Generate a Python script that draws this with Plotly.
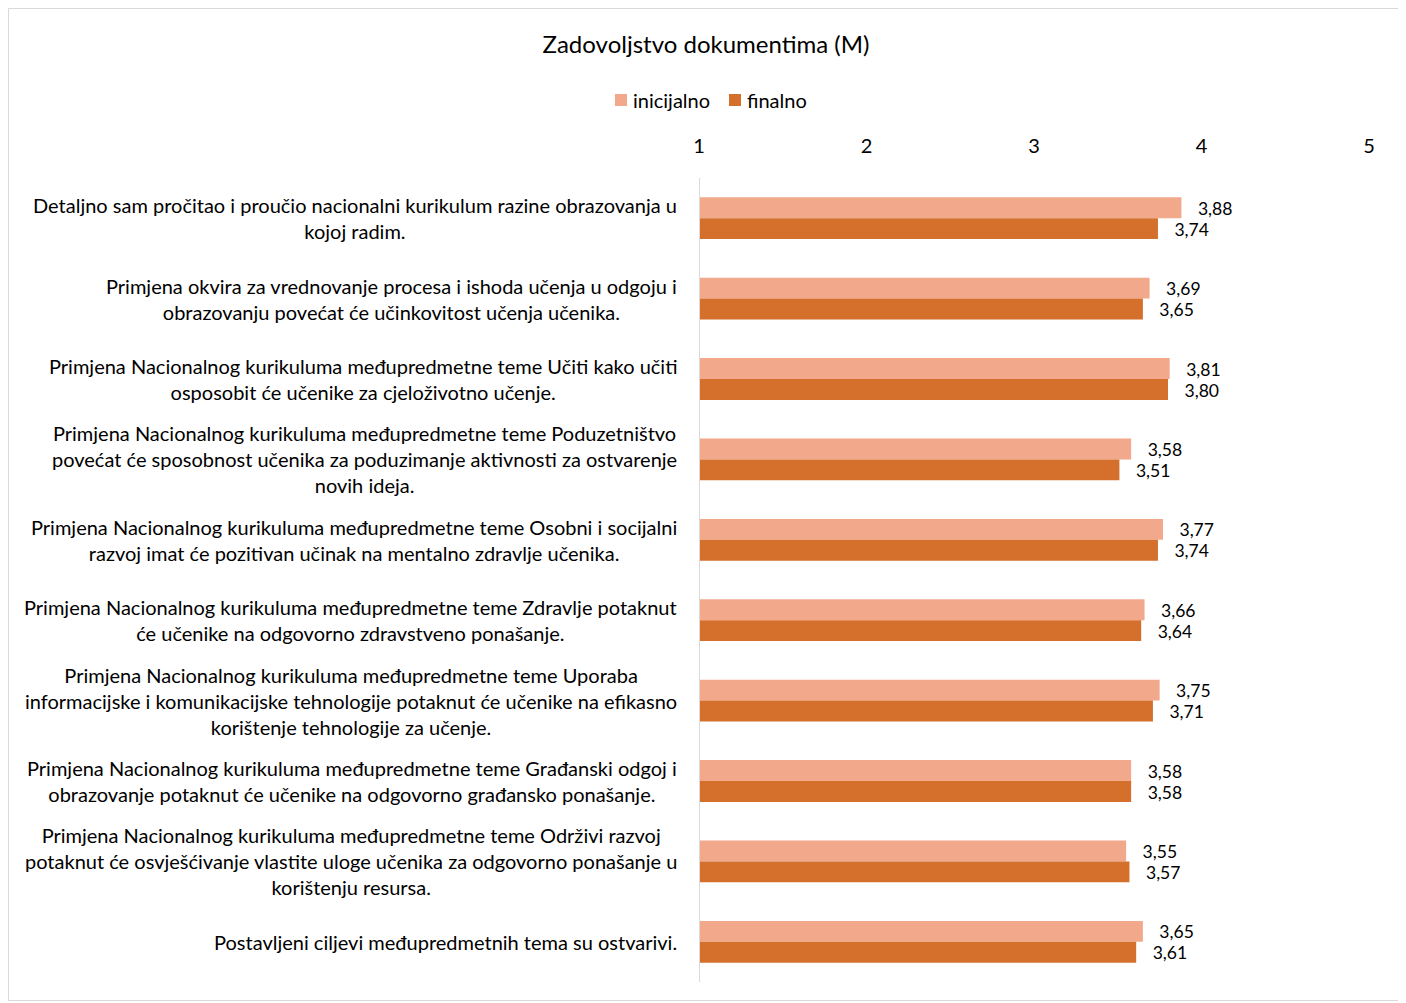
import plotly.graph_objects as go

categories = [
    "Detaljno sam pročitao i proučio nacionalni kurikulum razine obrazovanja u<br>kojoj radim.",
    "Primjena okvira za vrednovanje procesa i ishoda učenja u odgoju i<br>obrazovanju povećat će učinkovitost učenja učenika.",
    "Primjena Nacionalnog kurikuluma međupredmetne teme Učiti kako učiti<br>osposobit će učenike za cjeloživotno učenje.",
    "Primjena Nacionalnog kurikuluma međupredmetne teme Poduzetništvo<br>povećat će sposobnost učenika za poduzimanje aktivnosti za ostvarenje<br>novih ideja.",
    "Primjena Nacionalnog kurikuluma međupredmetne teme Osobni i socijalni<br>razvoj imat će pozitivan učinak na mentalno zdravlje učenika.",
    "Primjena Nacionalnog kurikuluma međupredmetne teme Zdravlje potaknut<br>će učenike na odgovorno zdravstveno ponašanje.",
    "Primjena Nacionalnog kurikuluma međupredmetne teme Uporaba<br>informacijske i komunikacijske tehnologije potaknut će učenike na efikasno<br>korištenje tehnologije za učenje.",
    "Primjena Nacionalnog kurikuluma međupredmetne teme Građanski odgoj i<br>obrazovanje potaknut će učenike na odgovorno građansko ponašanje.",
    "Primjena Nacionalnog kurikuluma međupredmetne teme Održivi razvoj<br>potaknut će osvješćivanje vlastite uloge učenika za odgovorno ponašanje u<br>korištenju resursa.",
    "Postavljeni ciljevi međupredmetnih tema su ostvarivi.",
]
inicijalno = [3.88, 3.69, 3.81, 3.58, 3.77, 3.66, 3.75, 3.58, 3.55, 3.65]
finalno = [3.74, 3.65, 3.80, 3.51, 3.74, 3.64, 3.71, 3.58, 3.57, 3.61]
x_ticks = [1, 2, 3, 4, 5]
series_names = ["inicijalno", "finalno"]
series_colors = ["#F1A88B", "#D46F2C"]

FONT = "Lato"
FS = 20
ypos = list(range(len(categories)))

fig = go.Figure()
for name, vals, col in zip(series_names, [inicijalno, finalno], series_colors):
    fig.add_trace(go.Bar(
        name=name, y=ypos, x=vals, orientation="h",
        marker=dict(color=col, line=dict(width=0)),
        texttemplate="\u00a0\u00a0\u00a0%{x:.2f}", textposition="outside",
        textfont=dict(size=21, color="#000000", family=FONT), cliponaxis=False,
        showlegend=False,
    ))

for i, c in enumerate(categories):
    fig.add_annotation(
        x=0, xref="paper", xanchor="right", xshift=-20,
        y=i, yref="y", yanchor="middle",
        text=c, align="center", showarrow=False,
        font=dict(size=FS, color="#000000", family=FONT),
    )

W, H = 1396, 993
L, R, T, B = 691, 35, 170, 19
pw, ph = W - L - R, H - T - B
def px(xp):
    return (xp - L) / pw
def py(yp):
    return 1 - (yp - T) / ph

# chart border
fig.add_shape(type="rect", xref="paper", yref="paper",
              x0=px(0.5), x1=px(W - 0.5), y0=py(H - 0.5), y1=py(0.5),
              line=dict(color="#D9D9D9", width=1), fillcolor="rgba(0,0,0,0)", layer="below")

# manual legend
leg_sq_x = [607, 721]
leg_txt_x = [623, 737]
leg_y = 92
for name, col, sx, tx in zip(series_names, series_colors, leg_sq_x, leg_txt_x):
    fig.add_shape(type="rect", xref="paper", yref="paper",
                  x0=px(sx), x1=px(sx + 12), y0=py(leg_y + 6), y1=py(leg_y - 6),
                  line=dict(width=0), fillcolor=col)
    fig.add_annotation(x=px(tx), xref="paper", xanchor="left", y=py(leg_y), yref="paper",
                       yanchor="middle", text=name, showarrow=False,
                       font=dict(size=FS, color="#000000", family=FONT))

fig.update_layout(
    width=W, height=H,
    margin=dict(l=L, r=R, t=T, b=B, autoexpand=False),
    paper_bgcolor="white", plot_bgcolor="white",
    separators=",.",
    barmode="group", bargap=0.48, bargroupgap=0,
    font=dict(family=FONT, color="#000000"),
    showlegend=False,
    title=dict(text="Zadovoljstvo dokumentima (M)", x=0.5, xref="container", xanchor="center",
               y=1 - 37 / H, yref="container", yanchor="middle",
               font=dict(size=24, color="#000000", family=FONT)),
    xaxis=dict(range=[1, 5], side="top", tickvals=x_ticks, ticktext=[str(t) for t in x_ticks],
               showgrid=False, zeroline=False, showline=False,
               ticks="outside", ticklen=16, tickcolor="rgba(0,0,0,0)",
               tickfont=dict(size=FS, color="#000000", family=FONT)),
    yaxis=dict(range=[len(categories) - 0.5, -0.5], showticklabels=False, showgrid=False,
               zeroline=False, showline=False, ticks=""),
)
fig.add_shape(type="line", xref="x", yref="paper", x0=1, x1=1, y0=0, y1=1,
              line=dict(color="#D9D9D9", width=2), layer="above")

fig.write_html("out.html")
